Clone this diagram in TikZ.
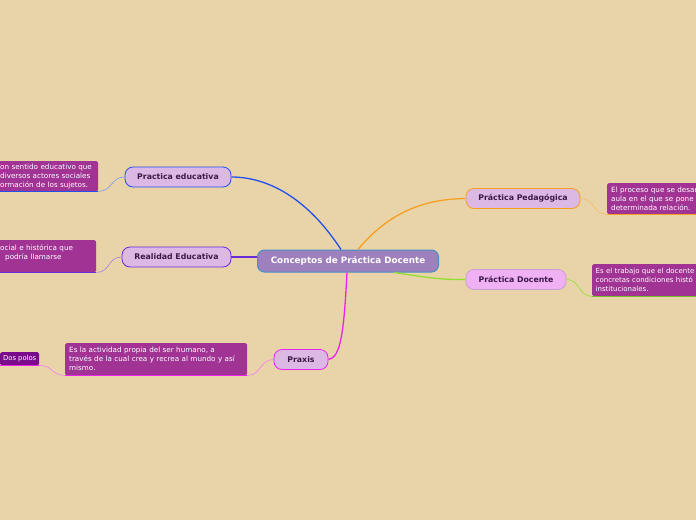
\documentclass[tikz,border=0pt]{standalone}
\usepackage{fontspec}
\setmainfont{DejaVu Sans}
\usetikzlibrary{positioning}

\definecolor{bgbeige}{HTML}{E8D4A8}
\definecolor{rootfill}{HTML}{9E80BC}
\definecolor{rootline}{HTML}{4A8EC4}
\definecolor{topicfill}{HTML}{DCB8E4}
\definecolor{topicpink}{HTML}{F0B0F4}
\definecolor{topictext}{HTML}{3A1A48}
\definecolor{leaffill}{HTML}{A03393}
\definecolor{polosfill}{HTML}{7A0C8C}
\definecolor{brblue}{HTML}{2250EE}
\definecolor{brviolet}{HTML}{6A2BD9}
\definecolor{brmagenta}{HTML}{EE22EE}
\definecolor{brorange}{HTML}{F5A020}
\definecolor{brgreen}{HTML}{90E030}
\definecolor{brpink}{HTML}{C9A0D4}

\begin{document}
\begin{tikzpicture}[x=1pt,y=-1pt,
    central/.style={rounded corners=7pt, draw=rootline, line width=1pt, fill=rootfill, text=white,
      font=\fontsize{8.8}{10}\selectfont\bfseries, minimum width=181pt, minimum height=22pt, inner sep=0pt},
    topic/.style={rounded corners=8pt, line width=0.8pt, fill=topicfill, text=topictext,
      font=\fontsize{7.8}{9}\selectfont\bfseries, minimum height=20pt, inner sep=0pt},
    leaf/.style={rounded corners=1.5pt, fill=leaffill, text=white, font=\fontsize{7.2}{9}\selectfont,
      align=left, anchor=north west, inner xsep=4pt, inner ysep=0pt},
    branch/.style={line width=1.3pt},
    twig/.style={line width=0.6pt},
    uline/.style={line width=1.2pt}
  ]
  \fill[bgbeige] (0,0) rectangle (696,520);
  \clip (0,0) rectangle (696,520);

  % main topics
  \node[central] (root) at (348,261) {Conceptos de Práctica Docente};
  \node[topic, draw=brblue, minimum width=106pt] (pe) at (178,177) {Practica educativa};
  \node[topic, draw=brviolet, minimum width=109pt] (re) at (176.5,257) {Realidad Educativa};
  \node[topic, draw=brmagenta, minimum width=54pt] (px) at (301,359.5) {Praxis};
  \node[topic, draw=brorange, minimum width=114pt] (pp) at (523,198.5) {Práctica Pedagógica};
  \node[topic, draw=brpink, fill=topicpink, minimum width=100pt] (pd) at (516,279.5) {Práctica Docente};

  % subtopics
  \node[leaf, text width=94pt, minimum height=30pt] (pe1) at (-4,161)
    {on sentido educativo que\\diversos actores sociales\\ormación de los sujetos.};
  \node[leaf, text width=92pt, minimum height=32pt] (re1) at (-4,240)
    {ocial e histórica que\\\hspace*{5pt}podría llamarse\\\phantom{x}};
  \node[leaf, text width=100pt, minimum height=31pt] (pp1) at (607,183)
    {El proceso que se desar\\aula en el que se pone\\determinada relación.};
  \node[leaf, text width=110pt, minimum height=32pt, inner xsep=3.5pt,
    font=\fontsize{7}{9}\selectfont] (pd1) at (592,264)
    {Es el trabajo que el docente\\concretas condiciones histó\\institucionales.};
  \node[leaf, text width=174pt, minimum height=32pt] (px1) at (65,343)
    {Es la actividad propia del ser humano, a\\través de la cual crea y recrea al mundo y así\\mismo.};
  \node[leaf, fill=polosfill, inner xsep=0pt, minimum width=39pt, minimum height=13pt,
    font=\fontsize{6.8}{8}\selectfont] (dp) at (0,352) {Dos polos};

  % branches
  \draw[branch, brblue] ([xshift=-7pt]root.north) .. controls (306,196) and (266,177) .. (pe.east);
  \draw[branch, brorange] ([xshift=10pt]root.north) .. controls (394,206) and (434,199) .. (pp.west);
  \draw[branch, brviolet] (re.east) -- (re.east -| root.west);
  \draw[branch, brmagenta] ([xshift=-1pt]root.south) .. controls (344,330) and (341,358) .. (px.east);
  \draw[branch, brgreen] ([xshift=46pt]root.south) .. controls (425,277) and (440,280) .. (pd.west);

  % twigs
  \draw[twig, brblue!60] (pe.west) .. controls +(-14,0) and +(14,0) .. (pe1.south east);
  \draw[uline, brblue] (pe1.south east) -- (pe1.south west);
  \draw[twig, brviolet!60] (re.west) .. controls +(-14,0) and +(14,0) .. (re1.south east);
  \draw[uline, brviolet] (re1.south east) -- (re1.south west);
  \draw[twig, brorange!70] (pp.east) .. controls +(14,0) and +(-14,0) .. (pp1.south west);
  \draw[uline, brorange] (pp1.south west) -- (pp1.south east);
  \draw[twig, brgreen] (pd.east) .. controls +(14,0) and +(-14,0) .. (pd1.south west);
  \draw[uline, brgreen!85!black] (pd1.south west) -- (pd1.south east);
  \draw[twig, brmagenta!60] (px.west) .. controls +(-14,0) and +(14,0) .. (px1.south east);
  \draw[uline, brmagenta] (px1.south east) -- (px1.south west);
  \draw[twig, brmagenta!60] (px1.south west) .. controls +(-14,0) and +(14,0) .. (dp.south east);
  \draw[uline, brmagenta] (dp.south east) -- (dp.south west);
\end{tikzpicture}
\end{document}
